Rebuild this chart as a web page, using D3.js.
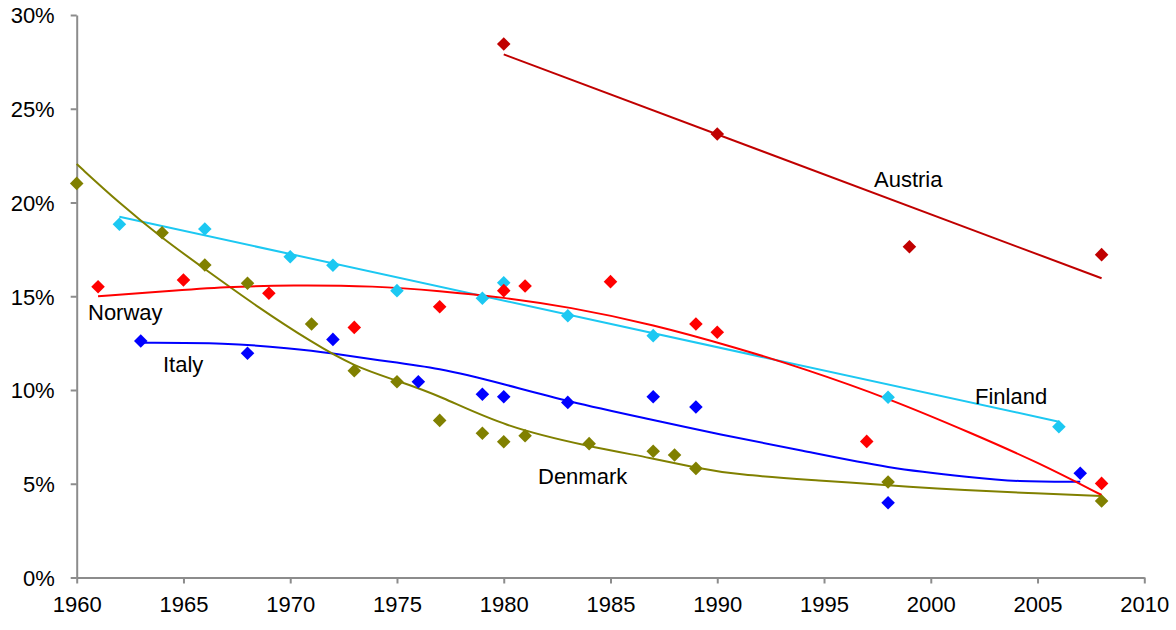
<!DOCTYPE html>
<html>
<head>
<meta charset="utf-8">
<script src="https://cdn.jsdelivr.net/npm/d3@7/dist/d3.min.js"></script>
<style>
  html, body { margin: 0; padding: 0; background: #fff; }
  svg { display: block; }
  text { font-family: "Liberation Sans", Arial, sans-serif; fill: #000; }
</style>
</head>
<body>
<svg id="chart" width="1176" height="630"></svg>
<script>
// Axis ticks
const xTicks = [1960, 1965, 1970, 1975, 1980, 1985, 1990, 1995, 2000, 2005, 2010];
const yTicks = [0, 5, 10, 15, 20, 25, 30];

// Observations: [year, percent]
const austria = [[1980, 28.45], [1990, 23.65], [1999, 17.64], [2008, 17.22]];
const finland = [[1962, 18.84], [1966, 18.59], [1970, 17.11], [1972, 16.65], [1975, 15.3],
                 [1979, 14.89], [1980, 15.72], [1983, 13.96], [1987, 12.9], [1998, 9.61], [2006, 8.04]];
const norway  = [[1961, 15.51], [1965, 15.87], [1969, 15.16], [1973, 13.34], [1977, 14.44],
                 [1980, 15.3], [1981, 15.55], [1985, 15.78], [1989, 13.52], [1990, 13.08],
                 [1997, 7.26], [2008, 5.02]];
const italy   = [[1963, 12.61], [1968, 11.96], [1972, 12.7], [1976, 10.44], [1979, 9.77],
                 [1980, 9.64], [1983, 9.34], [1987, 9.64], [1989, 9.09], [1998, 3.99], [2007, 5.56]];
const denmark = [[1960, 21.02], [1964, 18.39], [1966, 16.67], [1968, 15.69], [1971, 13.52],
                 [1973, 11.03], [1975, 10.44], [1977, 8.38], [1979, 7.69], [1980, 7.24],
                 [1981, 7.56], [1984, 7.14], [1987, 6.73], [1988, 6.53], [1989, 5.82],
                 [1998, 5.09], [2008, 4.08]];

// Trend lines: [year, percent]
const austriaTrend = [[1980, 27.9], [2008, 15.96]];
const finlandTrend = [[1962, 19.24], [2006, 8.31]];
const norwayTrend  = [[1961, 15.0], [1964, 15.25], [1967, 15.5], [1970, 15.6], [1974, 15.55],
                      [1977, 15.28], [1980, 14.94], [1983, 14.44], [1987, 13.5], [1991, 12.22],
                      [1994, 11.16], [1998, 9.57], [2002, 7.65], [2005, 6.15], [2008, 4.4]];
const italyTrend   = [[1963, 12.52], [1967, 12.52], [1970, 12.22], [1972, 11.96], [1974, 11.6],
                      [1977, 11.18], [1980, 10.32], [1983, 9.38], [1987, 8.4], [1990, 7.65],
                      [1994, 6.77], [1998, 5.82], [2002, 5.33], [2004, 5.11], [2007, 5.11]];
const denmarkTrend = [[1960, 22.05], [1962, 19.96], [1964, 18.1], [1966, 16.45], [1968.5, 14.4],
                      [1971, 12.55], [1973, 11.25], [1975, 10.5], [1977, 9.7], [1980, 8.05],
                      [1984, 6.98], [1987, 6.36], [1989, 5.85], [1991, 5.47], [1994.5, 5.2],
                      [1999.5, 4.79], [2001.4, 4.67], [2004.5, 4.5], [2008, 4.35]];

const series = [
  { name: "Austria", color: "#C00000", pts: austria, trend: austriaTrend, label: [874, 187] },
  { name: "Finland", color: "#1CC8F2", pts: finland, trend: finlandTrend, label: [975, 404] },
  { name: "Italy",   color: "#0000FF", pts: italy,   trend: italyTrend,   label: [163, 372] },
  { name: "Denmark", color: "#808000", pts: denmark, trend: denmarkTrend, label: [538, 484] },
  { name: "Norway",  color: "#FF0000", pts: norway,  trend: norwayTrend,  label: [88, 320] }
];

const svg = d3.select("#chart");
const plotLeft = 76.7, plotRight = 1144.3, plotTop = 15, plotBottom = 577.5;

const x = d3.scaleLinear().domain([1960, 2010]).range([plotLeft, plotRight]);
const y = d3.scaleLinear().domain([0, 30]).range([plotBottom, plotTop]);

const axisColor = "#8C8C8C";

// Y axis
const yAxis = svg.append("g")
  .attr("transform", `translate(${plotLeft},0)`)
  .call(d3.axisLeft(y).tickValues(yTicks).tickSize(6).tickSizeOuter(0).tickPadding(16)
        .tickFormat(d => d + "%"));
yAxis.select(".domain").attr("stroke", axisColor).attr("stroke-width", 2);
yAxis.selectAll(".tick line").attr("stroke", axisColor).attr("stroke-width", 2);
yAxis.selectAll(".tick text").attr("font-size", 22).attr("dy", "0.36em")
  .style("font-family", '"Liberation Sans", Arial, sans-serif').attr("fill", "#000");

// X axis
const xAxis = svg.append("g")
  .attr("transform", `translate(0,${plotBottom})`)
  .call(d3.axisBottom(x).tickValues(xTicks).tickSize(6).tickSizeOuter(0).tickPadding(13)
        .tickFormat(d3.format("d")));
xAxis.select(".domain").attr("stroke", axisColor).attr("stroke-width", 2);
xAxis.selectAll(".tick line").attr("stroke", axisColor).attr("stroke-width", 2);
xAxis.selectAll(".tick text").attr("font-size", 22)
  .style("font-family", '"Liberation Sans", Arial, sans-serif').attr("fill", "#000");

// Trend lines
const line = d3.line().x(d => x(d[0])).y(d => y(d[1])).curve(d3.curveBasis);
svg.append("g").selectAll("path")
  .data(series)
  .join("path")
  .attr("d", s => line(s.trend))
  .attr("fill", "none")
  .attr("stroke", s => s.color)
  .attr("stroke-width", 2);

// Diamond markers
const diamond = d3.symbol().type(d3.symbolSquare).size(92);
series.forEach(s => {
  svg.append("g").selectAll("path")
    .data(s.pts)
    .join("path")
    .attr("d", diamond)
    .attr("transform", d => `translate(${x(d[0])},${y(d[1])}) rotate(45)`)
    .attr("fill", s.color);
});

// Series labels
svg.append("g").selectAll("text")
  .data(series)
  .join("text")
  .attr("x", s => s.label[0])
  .attr("y", s => s.label[1])
  .attr("font-size", 22)
  .text(s => s.name);
</script>
</body>
</html>
